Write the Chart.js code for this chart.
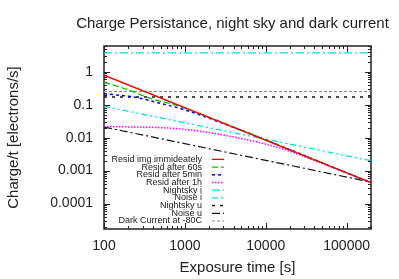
<!DOCTYPE html>
<html>
<head>
<meta charset="utf-8">
<script src="https://cdn.jsdelivr.net/npm/chart.js@4.4.1/dist/chart.umd.min.js"></script>
<style>
  html, body { margin: 0; padding: 0; background: #fff; }
  #wrap { width: 399px; height: 279px; }
</style>
</head>
<body>
<div id="wrap"><canvas id="persistChart" width="399" height="279"></canvas></div>
<script>
// exposure times [s] and charge/t [electrons/s]
const residImmT = [100, 200000];
const residImm = [0.78, 0.000433];
const resid60T = [100, 185, 374, 800, 1500, 200000];
const resid60 = [0.47, 0.30, 0.155, 0.094, 0.054, 0.000433];
const resid5mT = [100, 250, 500, 900, 2800, 200000];
const resid5m = [0.216, 0.165, 0.11, 0.075, 0.0285, 0.000433];
const resid1hT = [100, 880, 3600, 15000, 60000, 200000];
const resid1h = [0.022, 0.0183, 0.011, 0.0048, 0.00138, 0.000433];
const flatT = [100, 200000];
const nightskyI = [3.7, 3.7];
const noiseI = [0.089, 0.002];
const nightskyU = [0.17, 0.17];
const noiseU = [0.021, 0.00045];
const darkCurrent = [0.25, 0.25];

const labels = ['Resid img immideately', 'Resid after 60s', 'Resid after 5min', 'Resid after 1h',
  'Nightsky i', 'Noise i', 'Nightsky u', 'Noise u', 'Dark Current at -80C'];
const titleText = 'Charge Persistance, night sky and dark current';
const xRange = [100, 200000];
const yRange = [1.7e-5, 6];

const FONT = 'Liberation Sans, Arial, Helvetica, sans-serif';
const pts = (ts, vs) => ts.map((t, i) => ({ x: t, y: vs[i] }));

function decades(min, max) {
  const out = [];
  for (let e = Math.floor(Math.log10(min)); e <= Math.ceil(Math.log10(max)); e++) {
    const v = Math.pow(10, e);
    if (v >= min * 0.999 && v <= max * 1.001) out.push({ value: v });
  }
  return out;
}

function fmt(v) {
  const l = Math.round(Math.log10(v));
  return l >= 0 ? String(Math.pow(10, l)) : Math.pow(10, l).toFixed(-l);
}

// gnuplot style frame with inward ticks on all four sides, plus the title
// (the built-in title squeezes text wider than the plot, so draw it here)
const framePlugin = {
  id: 'frame',
  beforeDatasetsDraw(chart) {
    const { ctx, chartArea: a } = chart;
    const xs = chart.scales.x, ys = chart.scales.y;
    ctx.save();
    ctx.strokeStyle = '#222';
    ctx.lineWidth = 1;
    const drawTicks = (scale, horiz) => {
      for (let e = Math.floor(Math.log10(scale.min)); e <= Math.ceil(Math.log10(scale.max)); e++) {
        for (let k = 1; k <= 9; k++) {
          const v = k * Math.pow(10, e);
          if (v < scale.min || v > scale.max) continue;
          const p = Math.round(scale.getPixelForValue(v)) + 0.5;
          const len = k === 1 ? 6 : 3;
          ctx.beginPath();
          if (horiz) {
            ctx.moveTo(p, a.bottom); ctx.lineTo(p, a.bottom - len);
            ctx.moveTo(p, a.top); ctx.lineTo(p, a.top + len);
          } else {
            ctx.moveTo(a.left, p); ctx.lineTo(a.left + len, p);
            ctx.moveTo(a.right, p); ctx.lineTo(a.right - len, p);
          }
          ctx.stroke();
        }
      }
    };
    drawTicks(xs, true);
    drawTicks(ys, false);
    ctx.lineWidth = 1.5;
    ctx.strokeRect(a.left, a.top, a.right - a.left, a.bottom - a.top);

    ctx.fillStyle = '#222';
    ctx.font = '15px ' + FONT;
    ctx.textAlign = 'center';
    ctx.textBaseline = 'middle';
    ctx.fillText(titleText, (a.left + a.right) / 2 - 5, 24);
    ctx.restore();
  }
};

// key in the lower left: text right aligned, sample to its right
const keyPlugin = {
  id: 'key',
  afterDatasetsDraw(chart) {
    const { ctx, chartArea: a } = chart;
    const n = chart.data.datasets.length;
    const step = 7.7;
    ctx.save();
    ctx.font = '9px ' + FONT;
    ctx.textAlign = 'right';
    ctx.textBaseline = 'middle';
    chart.data.datasets.forEach((ds, i) => {
      const y = a.bottom - 8 - (n - 1 - i) * step;
      ctx.fillStyle = '#222';
      ctx.fillText(ds.label, a.left + 98, y);
      ctx.strokeStyle = ds.borderColor;
      ctx.lineWidth = ds.borderWidth;
      ctx.setLineDash(ds.borderDash || []);
      ctx.beginPath();
      ctx.moveTo(a.left + 108, y);
      ctx.lineTo(a.left + 120, y);
      ctx.stroke();
    });
    ctx.restore();
  }
};

const line = (label, data, color, dash, width, curved) => ({
  label, data, borderColor: color, borderDash: dash, borderWidth: width,
  pointRadius: 0, fill: false, tension: 0,
  cubicInterpolationMode: curved ? 'monotone' : 'default'
});

new Chart(document.getElementById('persistChart').getContext('2d'), {
  type: 'line',
  data: {
    datasets: [
      line(labels[0], pts(residImmT, residImm), '#ff0000', [], 1.3, false),
      line(labels[1], pts(resid60T, resid60), '#00c800', [6, 3], 1.3, true),
      line(labels[2], pts(resid5mT, resid5m), '#0000ff', [3, 3], 1.5, true),
      line(labels[3], pts(resid1hT, resid1h), '#ff00ff', [1.5, 1.5], 1.5, true),
      line(labels[4], pts(flatT, nightskyI), '#00e0e0', [8, 3, 2, 3], 1.3, false),
      line(labels[5], pts(flatT, noiseI), '#00e0e0', [6, 3, 2, 3, 2, 3], 1.3, false),
      line(labels[6], pts(flatT, nightskyU), '#111111', [3, 5], 1.5, false),
      line(labels[7], pts(flatT, noiseU), '#111111', [8, 3, 2, 3], 1.2, false),
      line(labels[8], pts(flatT, darkCurrent), '#888888', [3, 2], 1, false)
    ]
  },
  options: {
    responsive: false,
    animation: false,
    layout: { padding: { left: 0, right: 28, top: 46, bottom: 0 } },
    plugins: {
      legend: { display: false },
      tooltip: { enabled: false },
      title: { display: false }
    },
    scales: {
      x: {
        type: 'logarithmic',
        min: xRange[0], max: xRange[1],
        grid: { display: false, drawTicks: false },
        border: { display: false },
        afterBuildTicks: s => { s.ticks = decades(s.min, s.max); },
        afterFit: s => { s.height = 50; },
        ticks: {
          autoSkip: false, maxRotation: 0, padding: 9, color: '#222',
          font: { family: FONT, size: 14 },
          callback: v => fmt(v)
        },
        title: {
          display: true, text: 'Exposure time [s]', color: '#222',
          font: { family: FONT, size: 15 }, padding: { top: 0, bottom: 2 }
        }
      },
      y: {
        type: 'logarithmic',
        min: yRange[0], max: yRange[1],
        grid: { display: false, drawTicks: false },
        border: { display: false },
        afterBuildTicks: s => { s.ticks = decades(s.min, s.max); },
        afterFit: s => { s.width = 104; },
        ticks: {
          autoSkip: false, padding: 11, color: '#222',
          font: { family: FONT, size: 14 },
          callback: v => fmt(v)
        },
        title: {
          display: true, text: 'Charge/t [electrons/s]', color: '#222',
          font: { family: FONT, size: 15 }, padding: { top: 5, bottom: 0 }
        }
      }
    }
  },
  plugins: [framePlugin, keyPlugin]
});
</script>
</body>
</html>
